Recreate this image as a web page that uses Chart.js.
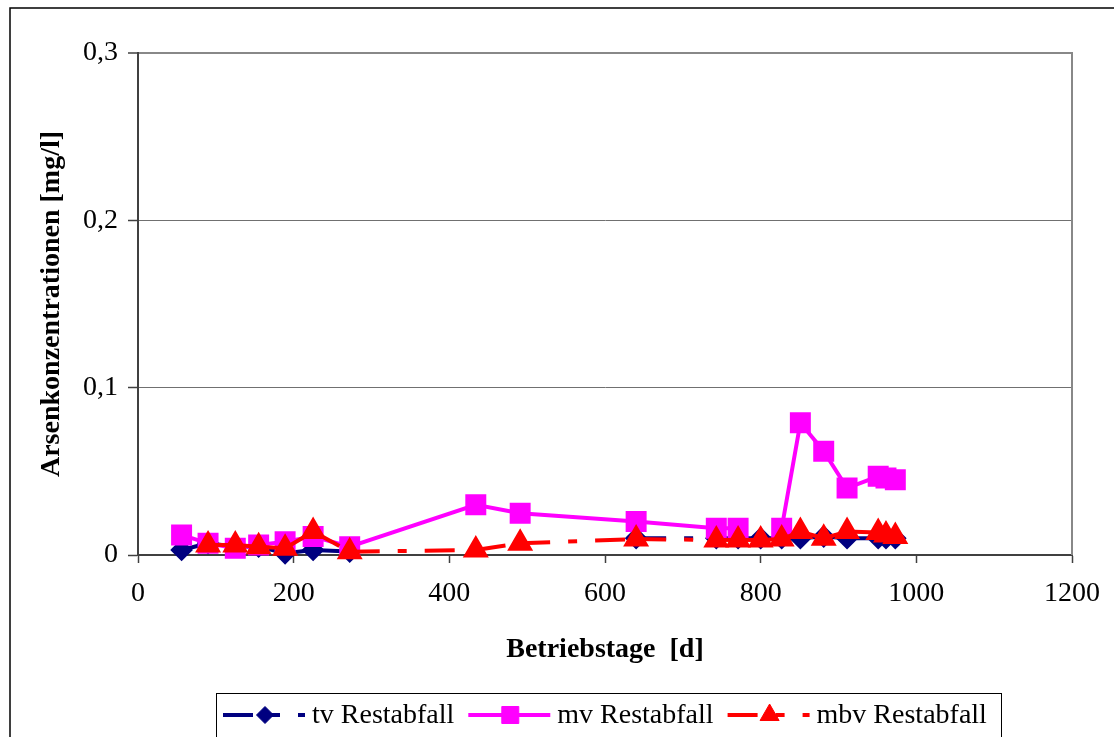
<!DOCTYPE html>
<html>
<head>
<meta charset="utf-8">
<script src="https://cdn.jsdelivr.net/npm/chart.js@4.4.1/dist/chart.umd.min.js"></script>
<style>
  html, body { margin: 0; padding: 0; background: #fff; }
  #wrap { width: 1114px; height: 737px; position: relative; }
</style>
</head>
<body>
<div id="wrap"><canvas id="chart"></canvas></div>
<script>
// Betriebstage [d]
const days = [56, 90, 125, 155, 189, 225, 272, 434, 491, 640, 743, 771, 800, 827, 851, 881, 911, 951, 961, 973];
// Arsenkonzentrationen [mg/l]
const tv  = [0.003, 0.007, 0.005, 0.005, 0.001, 0.003, 0.002, null, null, 0.010, 0.010, 0.010, 0.010, 0.010, 0.010, 0.011, 0.010, 0.010, 0.010, 0.010];
const mv  = [0.012, 0.007, 0.004, 0.006, 0.008, 0.011, 0.005, 0.030, 0.025, 0.020, 0.016, 0.016, null, 0.016, 0.079, 0.062, 0.040, 0.047, 0.046, 0.045];
const mbv = [null, 0.006, 0.006, 0.005, 0.004, 0.014, 0.002, 0.003, 0.007, 0.0095, 0.009, 0.009, 0.009, 0.0095, 0.014, 0.010, 0.014, 0.0135, 0.012, 0.011];
const seriesNames = ['tv Restabfall', 'mv Restabfall', 'mbv Restabfall'];
const xTicks = [0, 200, 400, 600, 800, 1000, 1200];
const yTicks = [0, 0.1, 0.2, 0.3];

const FONT = "'Liberation Serif', 'Times New Roman', serif";
const DASH = [30, 18, 9, 18];

Chart.defaults.font.family = FONT;
Chart.defaults.font.size = 28;
Chart.defaults.color = '#000';

const toPoints = (vals) => days.map((d, i) => ({ x: d, y: vals[i] }));

// restart the dash pattern on every segment, like the original
const restartDash = {
  borderDashOffset: (ctx) => (ctx.p0DataIndex % 2 ? 0.001 : 0)
};

const datasets = [{
  label: seriesNames[0],
  data: toPoints(tv),
  borderColor: '#000080',
  backgroundColor: '#000080',
  borderWidth: 4,
  borderDash: DASH,
  pointStyle: 'rectRot',
  pointRadius: 8.5,
  order: 2,
  segment: restartDash
}, {
  label: seriesNames[1],
  data: toPoints(mv),
  borderColor: '#ff00ff',
  backgroundColor: '#ff00ff',
  borderWidth: 4,
  pointStyle: 'rect',
  pointRadius: 12,
  order: 1
}, {
  label: seriesNames[2],
  data: toPoints(mbv),
  borderColor: '#ff0000',
  backgroundColor: '#ff0000',
  borderWidth: 4,
  borderDash: DASH,
  pointStyle: 'triangle',
  pointRadius: 11,
  order: 0,
  segment: restartDash
}];

const framePlugin = {
  id: 'frame',
  beforeDraw(chart) {
    const c = chart.ctx;
    c.save();
    c.fillStyle = '#fff';
    c.fillRect(0, 0, chart.width, chart.height);
    c.strokeStyle = '#000';
    c.lineWidth = 1.5;
    c.strokeRect(10, 8, chart.width + 20, chart.height + 20);
    c.restore();
  },
  afterDraw(chart) {
    const c = chart.ctx;
    const a = chart.chartArea;
    c.save();
    c.strokeStyle = '#888';
    c.lineWidth = 2;
    c.beginPath();
    c.moveTo(a.right, a.top - 1);
    c.lineTo(a.right, a.bottom);
    c.stroke();

    // legend
    const top = 693, midY = 715;
    c.strokeStyle = '#000';
    c.lineWidth = 1;
    c.strokeRect(216.5, top + 0.5, 785, 80);
    c.font = '28px ' + FONT;
    c.textBaseline = 'middle';
    let x = 223;
    chart.data.datasets.forEach((ds) => {
      const w = 82;
      c.save();
      c.strokeStyle = ds.borderColor;
      c.fillStyle = ds.backgroundColor;
      c.lineWidth = ds.borderWidth;
      c.setLineDash(ds.borderDash || []);
      c.beginPath();
      c.moveTo(x, midY);
      c.lineTo(x + w, midY);
      c.stroke();
      c.setLineDash([]);
      c.lineWidth = 1;
      Chart.helpers.drawPoint(c, {
        pointStyle: ds.pointStyle,
        radius: ds.pointRadius,
        rotation: 0,
        borderWidth: 1
      }, x + w / 2 + 1, midY);
      c.restore();
      c.fillStyle = '#000';
      c.fillText(ds.label, x + w + 7, midY + 1);
      x += w + 7 + c.measureText(ds.label).width + 14;
    });
    c.restore();
  }
};

new Chart(document.getElementById('chart'), {
  type: 'line',
  data: { datasets },
  options: {
    responsive: true,
    maintainAspectRatio: false,
    animation: false,
    layout: { padding: { left: 20, top: 53, right: 42, bottom: 67 } },
    plugins: {
      legend: { display: false },
      tooltip: { enabled: false }
    },
    elements: {
      line: { tension: 0, fill: false, borderCapStyle: 'butt', borderJoinStyle: 'miter' },
      point: { borderWidth: 1, hoverRadius: 10 }
    },
    datasets: { line: { clip: false, spanGaps: false } },
    scales: {
      x: {
        type: 'linear',
        min: 0,
        max: 1200,
        afterBuildTicks: (s) => { s.ticks = xTicks.map(v => ({ value: v })); },
        afterFit: (s) => { s.height = 115; },
        ticks: { padding: 14, color: '#000', font: { size: 28 }, callback: (v) => String(v) },
        grid: { drawOnChartArea: false, drawTicks: true, tickLength: 8, tickColor: '#404040', tickWidth: 1.5 },
        border: { color: '#404040', width: 2 },
        title: {
          display: true,
          text: 'Betriebstage  [d]',
          color: '#000',
          font: { size: 28, weight: 'bold' },
          padding: { top: 0, bottom: 3 }
        }
      },
      y: {
        min: 0,
        max: 0.3,
        afterBuildTicks: (s) => { s.ticks = yTicks.map(v => ({ value: v })); },
        afterFit: (s) => { s.width = 118; },
        ticks: {
          padding: 10,
          color: '#000',
          font: { size: 28 },
          callback: (v) => (v === 0 ? '0' : v.toFixed(1).replace('.', ','))
        },
        grid: {
          color: (ctx) => (ctx.tick && ctx.tick.value === 0 ? 'rgba(0,0,0,0)' : (ctx.tick && ctx.tick.value === 0.3 ? '#888' : '#707070')),
          lineWidth: (ctx) => (ctx.tick && ctx.tick.value === 0.3 ? 2 : 1),
          tickLength: 10,
          tickColor: '#404040',
          tickWidth: 1.5
        },
        border: { color: '#404040', width: 2 },
        title: {
          display: true,
          text: 'Arsenkonzentrationen [mg/l]',
          color: '#000',
          font: { size: 28, weight: 'bold' },
          padding: { top: 15, bottom: 0 }
        }
      }
    }
  },
  plugins: [framePlugin]
});
</script>
</body>
</html>
